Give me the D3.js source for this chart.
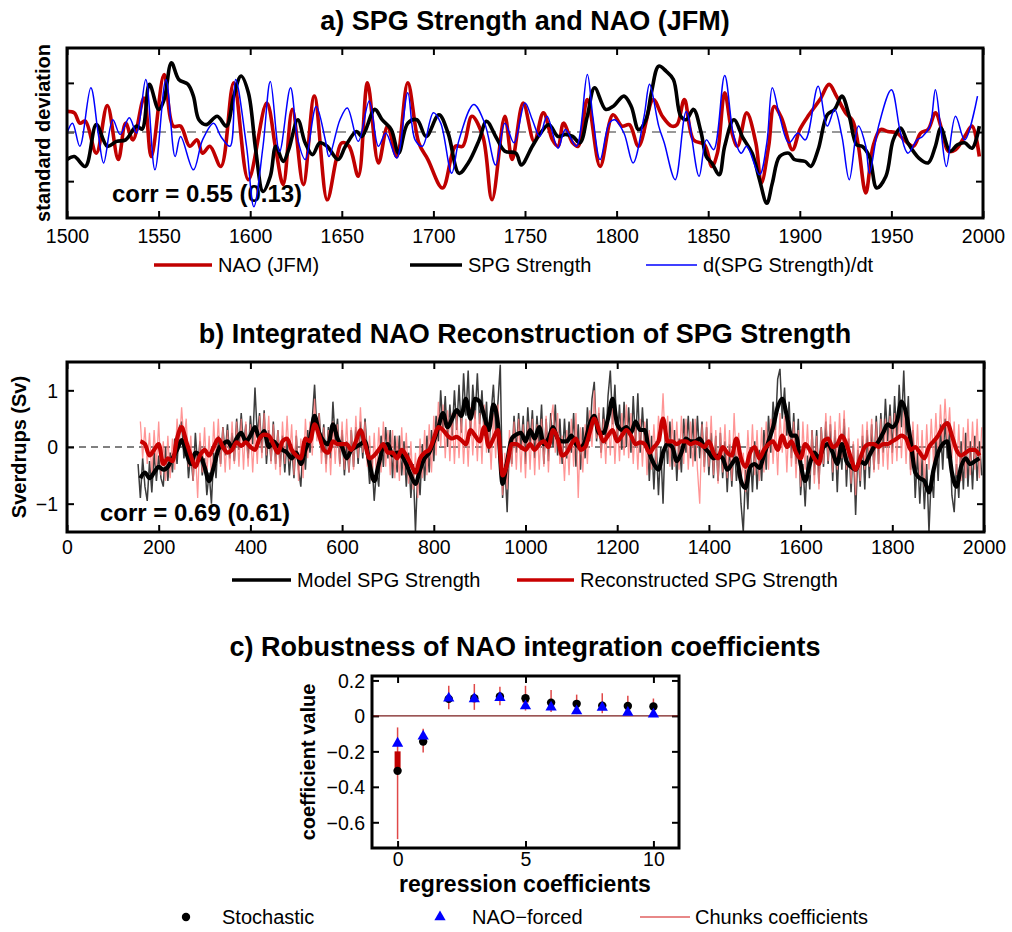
<!DOCTYPE html>
<html><head><meta charset="utf-8">
<script src="https://cdn.jsdelivr.net/npm/d3@7"></script>
<style>
html,body{margin:0;padding:0;background:#fff;}
svg text{font-family:"Liberation Sans",Arial,Helvetica,sans-serif;fill:#000;}
</style></head><body>
<svg id="fig" width="1012" height="932"></svg>
<script>
// ---------------- Panel a: SPG strength, NAO and d(SPG)/dt (standardised) ----------------
const naoYears = [1500,1504,1507,1510,1516,1522,1528,1532,1536,1542,1546,1553,1558,1562,1567,1571,1574,1578,1584,1591,1599,1609,1614,1618,1623,1629,1635,1642,1647,1650,1654,1659,1664,1670,1675,1680,1686,1692,1697,1705,1712,1716,1721,1727,1732,1739,1743,1749,1755,1760,1765,1768,1771,1776,1779,1784,1791,1798,1803,1807,1812,1820,1825,1830,1833,1837,1842,1848,1852,1855,1859,1863,1866,1871,1876,1879,1883,1886,1890,1896,1900,1905,1911,1916,1920,1925,1929,1932,1936,1940,1944,1948,1953,1957,1962,1966,1970,1974,1978,1981,1985,1990,1994,1998];
const naoValues = [0.42,0.39,0.18,0.22,-0.43,0.54,-0.56,0.18,-0.16,0.69,-0.5,1.17,0.12,0.12,-0.29,-0.16,-0.43,-0.29,-0.7,1.0,-0.97,0.59,-0.36,-1.07,0.46,-1.07,0.73,-1.38,-0.56,-0.22,-0.29,-0.9,1.0,-0.63,0.12,-0.5,1.0,-0.22,-0.56,-1.14,-0.29,-0.29,0.32,-0.09,-1.38,0.32,-0.56,0.59,-0.19,0.39,-0.16,-0.29,0.18,-0.22,-0.29,0.66,-0.7,0.35,0.12,0.15,-0.29,0.66,0.32,0.12,0.15,0.66,-0.16,-0.26,-0.7,-0.43,0.8,-0.02,-0.29,0.39,-0.22,-1.04,-0.29,0.52,0.29,-0.36,0.05,0.35,0.66,0.97,0.73,0.39,0.22,-0.29,-1.24,-0.29,0.05,0.01,-0.02,-0.16,-0.29,-0.02,0.05,0.39,-0.02,-0.39,-0.36,-0.09,0.12,-0.5];

const spgYears = [1500,1504,1510,1516,1522,1527,1532,1538,1541,1545,1550,1553,1557,1561,1566,1569,1572,1576,1582,1587,1591,1595,1599,1603,1607,1611,1614,1618,1621,1626,1630,1634,1638,1642,1648,1652,1658,1661,1668,1672,1677,1681,1686,1691,1696,1703,1708,1714,1719,1725,1729,1734,1739,1745,1748,1754,1758,1763,1768,1772,1776,1780,1784,1788,1794,1798,1804,1808,1812,1816,1819,1823,1827,1831,1835,1838,1842,1846,1849,1852,1856,1859,1864,1869,1874,1878,1882,1885,1889,1894,1897,1903,1906,1910,1915,1919,1923,1927,1931,1934,1938,1942,1947,1951,1955,1959,1965,1970,1974,1977,1982,1986,1990,1994,1998];
const spgValues = [-0.56,-0.5,-0.7,0.15,-0.29,-0.19,-0.16,0.12,0.06,0.97,0.46,0.66,1.41,1.07,0.97,0.73,0.25,0.15,0.32,0.12,0.73,1.14,0.8,-0.36,-1.21,-0.9,-0.29,-0.6,-0.36,0.25,-0.22,-0.46,-0.22,-0.29,-0.56,-0.29,0.01,-0.09,0.46,0.25,0.05,-0.43,0.18,0.25,-0.09,0.35,-0.02,-0.84,-0.63,-0.16,0.22,-0.09,-0.39,-0.43,-0.67,-0.29,-0.05,0.15,-0.09,-0.05,-0.09,-0.22,0.32,0.9,0.46,0.52,0.73,0.52,0.05,0.25,0.8,1.34,1.24,1.07,0.32,0.25,0.46,0.01,-0.5,-0.63,-0.87,-0.29,0.25,-0.12,-0.43,-0.97,-1.45,-1.04,-0.5,-0.43,-0.56,-0.6,-0.7,-0.36,0.35,0.46,0.73,0.32,-0.26,-0.29,-0.5,-1.14,-0.9,-0.16,0.08,-0.22,-0.53,-0.63,-0.29,0.08,-0.39,-0.26,-0.22,-0.33,0.12];

const dspgYears = [1500,1503,1507,1513,1517,1520,1525,1529,1534,1538,1543,1548,1554,1559,1562,1569,1574,1580,1584,1589,1592,1598,1602,1607,1611,1616,1622,1626,1630,1636,1641,1643,1649,1653,1659,1665,1670,1674,1680,1686,1690,1694,1700,1704,1710,1714,1722,1728,1734,1739,1744,1750,1754,1758,1762,1768,1772,1778,1784,1787,1791,1796,1799,1804,1809,1815,1818,1823,1826,1832,1838,1845,1849,1853,1859,1864,1868,1871,1878,1882,1885,1889,1894,1899,1903,1910,1915,1919,1923,1927,1932,1936,1938,1943,1950,1955,1959,1964,1967,1971,1974,1977,1980,1985,1990,1997];
const dspgValues = [-0.02,0.18,-0.29,0.9,-0.02,-0.63,0.25,-0.05,0.29,-0.02,1.07,-0.77,1.07,-0.5,-0.09,-0.77,-0.16,0.18,-0.09,-0.29,1.07,-0.29,-1.52,-0.29,1.03,-0.4,0.9,-0.16,-0.56,0.52,-0.16,-0.5,0.25,0.49,-0.19,0.63,-0.29,-0.02,-0.53,0.8,-0.16,-0.29,0.39,0.18,-0.84,-0.16,0.56,0.18,-0.67,0.18,-0.22,0.59,0.25,-0.09,0.32,-0.33,0.05,-0.29,1.17,0.32,-0.56,0.18,0.25,-0.02,-0.63,0.32,0.97,0.12,-0.22,-0.97,0.42,-0.9,-0.16,-0.36,1.15,-0.09,-0.43,-0.29,-0.87,-0.22,0.9,0.32,-0.22,-0.02,-0.16,0.93,0.12,0.46,-0.09,-0.97,0.12,-0.29,-0.84,0.12,0.86,-0.02,-0.43,-0.16,-0.09,0.12,0.86,0.05,-0.7,0.32,-0.16,0.73];

// ---------------- Panel b: model vs reconstructed SPG strength (Sv) ----------------
// annual-ish series sampled every 5 years; smoothed series every 10 years
const modelRawStart = 155, reconRawStart = 160, rawStep = 5;
const modelRaw = [
-0.3,-0.9,-0.2,-0.7,-0.95,-0.25,-0.8,-0.1,-0.6,-0.15,-0.55,-0.7,0.0,-0.6,-0.1,-0.45,0.15,-0.3,0.35,0.45,
-0.2,0.15,-0.55,-0.1,-0.6,0.25,-0.35,0.1,-0.5,-0.2,-0.85,-0.45,-1.0,-0.1,-0.55,0.2,-0.3,0.35,-0.15,0.4,
-0.2,0.25,-0.25,0.5,-0.05,0.6,0.0,0.4,-0.2,0.55,0.05,1.05,0.2,0.6,-0.1,0.65,-0.3,0.3,-0.25,0.45,
-0.3,0.3,-0.35,0.2,-0.45,0.15,-0.5,0.05,-0.55,0.2,-0.4,-0.7,0.1,-0.4,0.3,-0.1,0.5,1.1,0.3,0.6,
-0.1,0.4,-0.3,0.35,-0.2,0.8,0.1,0.5,-0.3,0.3,-0.5,0.1,-0.45,0.3,-0.35,0.35,-0.3,0.45,-0.2,0.5,
-0.1,-0.65,-0.2,-0.95,-0.4,-0.7,0.2,-0.35,0.35,-0.2,0.3,-0.55,0.2,-0.45,0.2,-0.5,0.1,-0.7,-0.1,-0.9,
-0.3,-1.5,-0.4,-0.85,0.05,-0.6,0.2,-0.45,0.3,-0.25,0.55,0.1,1.0,0.3,0.9,0.0,0.75,0.2,1.0,0.3,
1.1,0.25,1.3,0.55,1.35,0.2,1.1,0.5,1.3,0.4,1.0,0.2,0.8,-0.1,0.6,1.1,0.3,0.8,1.45,-0.9,
-0.3,-1.15,0.1,-0.3,0.55,-0.1,0.6,-0.05,0.55,-0.3,0.7,0.05,0.65,-0.2,0.55,0.0,0.75,-0.3,0.5,-0.25,
0.6,0.0,0.75,-0.15,0.5,-0.3,0.5,-0.2,0.45,-0.1,0.6,-0.35,0.4,-0.4,0.35,-0.2,0.7,0.1,0.85,1.15,
0.1,0.6,-0.1,0.7,0.05,0.9,1.35,0.4,1.1,0.1,0.75,-0.05,0.8,0.0,0.7,-0.1,0.9,0.05,0.95,-0.1,
0.7,0.0,0.5,-0.6,0.2,-0.75,0.1,-0.85,0.0,-1.0,0.3,-0.3,0.45,-0.4,0.3,-0.6,0.15,-0.45,0.5,-0.1,
0.55,-0.2,0.5,-0.25,0.55,-0.2,0.45,-0.35,0.35,-0.5,0.25,-0.55,0.2,-0.6,0.25,-0.55,0.1,-0.8,0.05,-0.7,
0.15,-0.6,-0.2,-1.0,-1.5,-0.4,-1.1,0.0,-0.8,0.1,-0.75,-0.05,-0.6,0.3,-0.4,0.55,-0.1,0.8,0.3,1.2,
1.38,0.5,1.05,0.2,0.8,-0.2,0.6,-0.3,0.5,-0.85,-0.3,-1.05,-0.15,-0.75,0.3,-0.5,0.3,-0.65,0.35,-0.35,
0.45,-0.3,0.4,-0.6,0.3,-0.8,0.2,-0.4,0.5,-0.7,0.15,-0.8,0.05,-1.2,-0.05,-0.7,0.2,-0.75,0.3,-0.55,
0.4,-0.4,0.55,-0.3,0.6,-0.1,0.85,0.1,0.75,-0.1,0.9,0.1,1.1,0.35,1.35,0.2,0.9,-0.4,0.3,-0.9,
-0.1,-1.0,-0.2,-1.1,-0.3,-1.5,-0.5,-0.9,0.2,-0.6,0.4,-0.4,0.5,-0.2,0.3,-0.85,-1.15,-0.3,-0.9,0.1,
-0.75,0.25,-0.7,0.1,-0.75,0.2,-0.6,0.1,-0.5];
const reconRaw = [
0.45,-0.2,0.35,-0.3,0.25,-0.5,0.3,-0.35,0.45,-0.5,0.1,-0.6,0.2,-0.55,0.15,-0.4,0.5,0.0,0.7,0.1,
0.5,-0.35,0.2,-0.6,-0.05,-0.9,0.25,-0.45,0.35,-0.5,0.2,-0.55,0.45,-0.3,0.5,-0.35,0.35,-0.45,0.3,-0.4,
0.45,-0.3,0.45,-0.35,0.5,-0.4,0.45,-0.35,0.4,-0.45,0.35,-0.3,0.55,-0.2,0.6,-0.15,0.55,-0.3,0.4,-0.4,
0.3,-0.5,0.45,-0.3,0.55,-0.25,0.4,-0.5,0.3,-0.6,0.15,-0.55,0.5,-0.2,0.45,-0.15,0.85,0.1,0.6,-0.3,
0.35,-0.45,0.3,-0.5,0.45,-0.3,0.4,-0.35,0.45,-0.4,0.5,-0.45,0.35,-0.4,0.55,-0.2,0.7,-0.1,0.45,-0.35,
0.2,-0.6,0.25,-0.55,0.35,-0.45,0.45,-0.35,0.3,-0.5,0.3,-0.55,0.2,-0.6,0.35,-0.5,0.25,-0.65,0.1,-0.75,
-0.1,-0.9,0.15,-0.55,0.3,-0.5,0.4,-0.45,0.55,-0.15,0.8,0.0,0.75,-0.2,0.65,-0.25,0.6,-0.3,0.6,-0.2,
0.55,-0.3,0.5,-0.35,0.7,-0.15,0.65,-0.25,0.6,-0.3,0.75,-0.1,0.45,-0.4,0.6,-0.2,0.75,0.05,-0.85,-0.1,
-0.75,0.3,-0.35,0.45,-0.4,0.5,-0.45,0.4,-0.55,0.45,-0.4,0.5,-0.5,0.4,-0.4,0.5,-0.35,0.55,-0.45,0.45,
0.75,-0.1,0.6,-0.3,0.2,-0.6,0.3,-0.5,0.5,-0.35,0.6,-0.9,0.35,-0.45,0.4,-0.3,0.65,0.0,1.0,0.15,
0.7,-0.2,0.5,-0.3,0.6,-0.15,0.7,-0.3,0.5,-0.25,0.6,-0.15,0.75,-0.2,0.6,-0.3,0.45,-0.4,0.5,-0.35,
0.45,-0.5,0.3,-0.4,0.4,-0.3,0.55,0.1,0.95,0.0,0.55,-0.35,0.5,-0.35,0.45,-0.4,0.55,-0.3,0.5,-0.4,
0.45,-0.35,0.5,-0.4,-1.0,0.4,-0.45,0.45,-0.35,0.55,-0.5,0.3,-0.65,0.35,-0.45,0.4,-0.55,0.3,-0.6,0.6,
-0.3,0.25,-0.65,-0.1,-0.8,0.3,-0.45,0.4,-0.5,0.3,-0.6,0.35,-0.45,0.45,-0.4,0.5,-0.3,0.45,-0.5,0.6,
-0.1,0.55,-0.45,0.5,-0.35,0.45,-0.55,0.3,-0.7,0.45,-0.4,0.4,-0.5,0.3,-0.65,0.2,-0.75,0.35,-0.3,0.6,
-0.25,0.55,-0.45,0.45,-0.4,0.6,-0.2,0.65,-0.4,0.35,-0.65,0.1,-0.85,0.15,-0.6,0.4,-0.4,0.45,-0.35,0.5,
-0.45,0.45,-0.4,0.5,-0.35,0.5,-0.4,0.55,-0.3,0.6,-0.25,0.7,-0.2,0.65,-0.3,0.55,-0.5,0.45,-0.45,0.4,
-0.55,0.3,-0.7,0.4,-0.4,0.5,-0.3,0.6,-0.2,0.75,0.0,0.85,0.1,0.7,-0.2,0.45,-0.5,0.4,-0.6,0.35,
-0.55,0.5,-0.5,0.45,-0.4,0.5,-0.55,0.35];
const smoothStart = 160, smoothStep = 10;
const modelSmooth = [
-0.55,-0.45,-0.55,-0.45,-0.35,-0.4,-0.35,-0.2,-0.05,0.12,
-0.1,-0.3,-0.1,-0.15,-0.35,-0.6,-0.35,-0.05,0.05,0.1,
0.0,0.15,0.25,0.1,0.2,0.35,0.15,0.28,0.0,0.1,
0.02,-0.05,-0.1,-0.2,-0.1,-0.3,-0.05,0.15,0.55,0.25,
0.1,0.05,0.4,0.15,0.0,-0.2,-0.05,0.0,0.05,0.1,
-0.3,-0.6,-0.3,0.0,0.05,-0.15,-0.1,-0.15,-0.3,-0.5,
-0.65,-0.4,-0.2,-0.1,0.1,0.35,0.6,0.35,0.5,0.65,
0.55,0.85,0.5,0.85,0.8,0.55,0.3,0.75,0.4,-0.65,
-0.25,0.15,0.22,0.25,0.1,0.3,0.15,0.35,0.05,0.15,
0.35,0.15,0.1,0.1,0.2,0.05,0.0,0.1,0.4,0.55,
0.25,0.25,0.5,0.85,0.4,0.3,0.35,0.25,0.45,0.3,
0.3,-0.1,-0.3,-0.4,-0.1,0.05,0.0,-0.25,-0.1,0.15,
0.1,0.1,0.15,0.0,-0.1,-0.2,-0.15,-0.2,-0.4,-0.3,
-0.2,-0.6,-0.72,-0.35,-0.3,-0.37,-0.15,0.1,0.35,0.7,
0.85,0.55,0.2,0.2,-0.3,-0.6,-0.3,-0.1,-0.2,0.0,
0.05,-0.1,-0.3,0.05,-0.25,-0.35,-0.4,-0.25,-0.3,-0.15,
0.0,0.1,0.25,0.4,0.35,0.45,0.8,0.6,0.1,-0.45,
-0.55,-0.6,-0.8,-0.4,-0.1,0.05,0.1,-0.45,-0.7,-0.35,
-0.2,-0.3,-0.25,-0.2];
const reconSmooth = [
0.1,0.05,-0.15,-0.05,0.05,-0.3,-0.2,-0.25,0.15,0.35,
0.1,-0.15,-0.35,-0.15,-0.05,-0.15,0.0,0.15,0.0,-0.1,
-0.05,0.08,0.02,0.08,0.0,-0.05,0.15,0.22,0.2,0.05,
-0.1,0.1,0.15,-0.05,-0.15,-0.2,0.15,0.1,0.4,0.2,
-0.05,-0.1,0.1,0.05,0.05,0.05,-0.05,0.1,0.3,0.05,
-0.2,-0.15,-0.05,0.05,-0.1,-0.1,-0.2,-0.05,-0.15,-0.3,
-0.45,-0.2,-0.1,-0.05,0.15,0.35,0.3,0.2,0.15,0.18,
0.12,0.05,0.3,0.2,0.1,0.35,0.0,0.15,0.3,-0.5,
-0.3,0.05,0.05,0.0,-0.05,0.05,-0.05,0.05,0.1,0.0,
0.3,0.15,-0.15,-0.1,0.05,0.15,-0.05,0.0,0.25,0.5,
0.3,0.1,0.2,0.3,0.1,0.2,0.3,0.2,0.05,0.08,
0.05,-0.1,0.0,0.1,0.5,0.1,0.1,0.05,0.1,0.1,
0.05,0.08,0.05,0.0,0.1,-0.1,-0.2,0.0,-0.1,-0.15,
0.15,-0.2,-0.35,-0.1,0.0,-0.2,-0.05,0.05,0.1,-0.05,
0.2,0.0,0.1,-0.1,-0.2,0.05,-0.05,-0.2,-0.3,0.1,
0.15,0.0,0.05,0.2,0.05,-0.2,-0.4,-0.2,0.0,0.05,
0.05,0.0,0.05,0.05,0.1,0.15,0.2,0.15,-0.05,0.0,
-0.1,-0.2,0.0,0.1,0.2,0.35,0.42,0.2,-0.05,-0.15,
-0.1,-0.05,-0.05,-0.15];

// ---------------- Panel c: integration coefficients ----------------
const coefIndex      = [0,1,2,3,4,5,6,7,8,9,10];
const stochastic     = [-0.31,-0.145,0.096,0.1,0.11,0.1,0.075,0.068,0.058,0.056,0.053];
const naoForced      = [-0.155,-0.115,0.1,0.096,0.103,0.056,0.049,0.028,0.047,0.019,0.009];
const chunkMin       = [-0.695,-0.206,0.038,0.034,0.06,0.03,0.022,0.01,0.015,0.004,0.0];
const chunkMax       = [-0.065,-0.073,0.17,0.18,0.165,0.17,0.146,0.12,0.128,0.113,0.098];
const chunkQ1        = [-0.305,-0.155,0.085,0.085,0.095,0.075,0.06,0.055,0.045,0.045,0.04];
const chunkQ3        = [-0.2,-0.125,0.105,0.105,0.115,0.115,0.08,0.075,0.065,0.06,0.055];

// ---------------- drawing ----------------
const svg = d3.select("#fig");
svg.append("rect").attr("width",1012).attr("height",932).attr("fill","#fff");

const TICK_FONT = 19.5;

function frame(g, sx, sy, o) {
  const [xl, xr] = sx.range();
  const [yb, yt] = sy.range();
  const axes = g.append("g");
  const bot = axes.append("g").attr("transform",`translate(0,${yb})`)
    .call(d3.axisBottom(sx).tickValues(o.xt).tickSize(-7).tickSizeOuter(0).tickFormat(o.xf || (() => "")));
  axes.append("g").attr("transform",`translate(0,${yt})`)
    .call(d3.axisTop(sx).tickValues(o.xt).tickSize(-7).tickSizeOuter(0).tickFormat(() => ""));
  const left = axes.append("g").attr("transform",`translate(${xl},0)`)
    .call(d3.axisLeft(sy).tickValues(o.yt).tickSize(-7).tickSizeOuter(0).tickFormat(o.yf || (() => "")));
  axes.append("g").attr("transform",`translate(${xr},0)`)
    .call(d3.axisRight(sy).tickValues(o.yt).tickSize(-7).tickSizeOuter(0).tickFormat(() => ""));
  axes.selectAll(".domain").remove();
  axes.selectAll(".tick line").attr("stroke","#000").attr("stroke-width",2);
  axes.selectAll("text").attr("font-size",TICK_FONT).attr("font-family",null).attr("fill","#000");
  bot.selectAll("text").attr("y", o.xly).attr("dy", 0);
  left.selectAll("text").attr("x", -o.ylx).attr("dy", "0.35em");
}
function box(g, sx, sy) {
  const [xl, xr] = sx.range();
  const [yb, yt] = sy.range();
  g.append("rect").attr("x",xl).attr("y",yt).attr("width",xr-xl).attr("height",yb-yt)
    .attr("fill","none").attr("stroke","#000").attr("stroke-width",3);
}
function clip(id, sx, sy) {
  const [xl, xr] = sx.range();
  const [yb, yt] = sy.range();
  svg.append("clipPath").attr("id",id).append("rect")
    .attr("x",xl).attr("y",yt).attr("width",xr-xl).attr("height",yb-yt);
}
function title(txt, y) {
  svg.append("text").attr("x",525).attr("y",y).attr("text-anchor","middle")
    .attr("font-size",27).attr("font-weight","bold").text(txt);
}
function ylabel(txt, x, y) {
  svg.append("text").attr("transform",`translate(${x},${y}) rotate(-90)`).attr("text-anchor","middle")
    .attr("font-size",20).attr("font-weight","bold").text(txt);
}
function legendLine(x1, x2, y, color, w, label) {
  svg.append("line").attr("x1",x1).attr("x2",x2).attr("y1",y).attr("y2",y)
    .attr("stroke",color).attr("stroke-width",w);
  svg.append("text").attr("x",x2+6).attr("y",y+7).attr("font-size",20).text(label);
}

// ===== Panel a =====
const ax = d3.scaleLinear().domain([1500,2000]).range([67,983]);
const ay = d3.scaleLinear().domain([-1.75,1.71]).range([218,48]);
clip("clipA", ax, ay);
const gA = svg.append("g");
frame(gA, ax, ay, {xt:d3.range(1500,2001,50), xf:d3.format("d"), yt:[-1,0,1], xly:25, ylx:9});
gA.append("line").attr("x1",ax(1500)).attr("x2",ax(2000)).attr("y1",ay(0)).attr("y2",ay(0))
  .attr("stroke","#777").attr("stroke-width",1.4).attr("stroke-dasharray","9,6");
gA.append("text").attr("x",112).attr("y",202).attr("font-size",24).attr("font-weight","bold")
  .text("corr = 0.55 (0.13)");
const dA = gA.append("g").attr("clip-path","url(#clipA)");
const lineA = (yrs) => d3.line().x((d,i) => ax(yrs[i])).y(d => ay(d)).curve(d3.curveCatmullRom.alpha(0.5));
dA.append("path").datum(naoValues).attr("d", lineA(naoYears)).attr("fill","none")
  .attr("stroke","#c00000").attr("stroke-width",3.6).attr("stroke-linejoin","round");
dA.append("path").datum(spgValues).attr("d", lineA(spgYears)).attr("fill","none")
  .attr("stroke","#000").attr("stroke-width",3.6).attr("stroke-linejoin","round");
dA.append("path").datum(dspgValues).attr("d", lineA(dspgYears)).attr("fill","none")
  .attr("stroke","#0000ff").attr("stroke-width",1.5).attr("stroke-linejoin","round");
box(gA, ax, ay);
title("a) SPG Strength and NAO (JFM)", 30);
ylabel("standard deviation", 50, 133);
legendLine(154, 212, 265, "#c00000", 3.6, "NAO (JFM)");
legendLine(410, 462, 265, "#000", 3.6, "SPG Strength");
legendLine(646, 697, 265, "#0000ff", 1.5, "d(SPG Strength)/dt");

// ===== Panel b =====
const bx = d3.scaleLinear().domain([0,2000]).range([67,984]);
const by = d3.scaleLinear().domain([-1.5,1.5]).range([532,362]);
clip("clipB", bx, by);
const gB = svg.append("g");
frame(gB, bx, by, {xt:d3.range(0,2001,200), xf:d3.format("d"), yt:[-1,0,1], yf:d3.format("d"), xly:22, ylx:9});
gB.append("line").attr("x1",bx(0)).attr("x2",bx(2000)).attr("y1",by(0)).attr("y2",by(0))
  .attr("stroke","#000").attr("stroke-width",1).attr("stroke-dasharray","7,5");
gB.append("text").attr("x",100).attr("y",521).attr("font-size",24).attr("font-weight","bold")
  .text("corr = 0.69 (0.61)");
const dB = gB.append("g").attr("clip-path","url(#clipB)");
const lineB = (start, step, curve) => d3.line().x((d,i) => bx(start + i*step)).y(d => by(d)).curve(curve);
dB.append("path").datum(modelRaw).attr("d", lineB(modelRawStart, rawStep, d3.curveLinear))
  .attr("fill","none").attr("stroke","#3c3c3c").attr("stroke-width",1.5);
dB.append("path").datum(reconRaw).attr("d", lineB(reconRawStart, rawStep, d3.curveLinear))
  .attr("fill","none").attr("stroke","#ff7a7a").attr("stroke-opacity",0.8).attr("stroke-width",1.3);
dB.append("path").datum(modelSmooth).attr("d", lineB(smoothStart, smoothStep, d3.curveMonotoneX))
  .attr("fill","none").attr("stroke","#000").attr("stroke-width",4.2).attr("stroke-linejoin","round");
dB.append("path").datum(reconSmooth).attr("d", lineB(smoothStart, smoothStep, d3.curveMonotoneX))
  .attr("fill","none").attr("stroke","#c80000").attr("stroke-width",4.2).attr("stroke-linejoin","round");
box(gB, bx, by);
title("b) Integrated NAO Reconstruction of SPG Strength", 343);
ylabel("Sverdrups (Sv)", 26, 447);
legendLine(232, 291, 580, "#000", 3.6, "Model SPG Strength");
legendLine(517, 574, 580, "#c80000", 3.6, "Reconstructed SPG Strength");

// ===== Panel c =====
const cx = d3.scaleLinear().domain([-1,11]).range([372,679]);
const cy = d3.scaleLinear().domain([-0.745,0.225]).range([848,676]);
const gC = svg.append("g");
const fmtC = d => d === 0 ? "0" : d3.format(".1f")(d);
frame(gC, cx, cy, {xt:[0,5,10], xf:d3.format("d"), yt:[-0.6,-0.4,-0.2,0,0.2], yf:fmtC, xly:18, ylx:7});
gC.append("line").attr("x1",cx(-1)).attr("x2",cx(11)).attr("y1",cy(0)).attr("y2",cy(0))
  .attr("stroke","#7a1c1c").attr("stroke-width",1.3);
gC.selectAll(".rng").data(coefIndex).join("line")
  .attr("x1",d => cx(d)).attr("x2",d => cx(d))
  .attr("y1",(d,i) => cy(chunkMin[i])).attr("y2",(d,i) => cy(chunkMax[i]))
  .attr("stroke","#e04848").attr("stroke-width",1.5);
gC.selectAll(".iqr").data(coefIndex).join("line")
  .attr("x1",d => cx(d)).attr("x2",d => cx(d))
  .attr("y1",(d,i) => cy(chunkQ1[i])).attr("y2",(d,i) => cy(chunkQ3[i]))
  .attr("stroke","#c00000").attr("stroke-width",6);
gC.selectAll(".sto").data(coefIndex).join("circle")
  .attr("cx",d => cx(d)).attr("cy",(d,i) => cy(stochastic[i])).attr("r",4.2).attr("fill","#000");
const tri = d3.symbol().type(d3.symbolTriangle).size(55);
gC.selectAll(".nao").data(coefIndex).join("path")
  .attr("d", tri).attr("transform",(d,i) => `translate(${cx(d)},${cy(naoForced[i])})`).attr("fill","#0000ff");
box(gC, cx, cy);
title("c) Robustness of NAO integration coefficients", 656);
ylabel("coefficient value", 315, 762);
svg.append("text").attr("x",525).attr("y",892).attr("text-anchor","middle")
  .attr("font-size",23).attr("font-weight","bold").text("regression coefficients");
// legend
svg.append("circle").attr("cx",186).attr("cy",917).attr("r",4.2).attr("fill","#000");
svg.append("text").attr("x",222).attr("y",924).attr("font-size",20).text("Stochastic");
svg.append("path").attr("d",tri).attr("transform","translate(440,917)").attr("fill","#0000ff");
svg.append("text").attr("x",472).attr("y",924).attr("font-size",20).text("NAO\u2212forced");
svg.append("line").attr("x1",640).attr("x2",690).attr("y1",917).attr("y2",917)
  .attr("stroke","#e06060").attr("stroke-width",1.5);
svg.append("text").attr("x",695).attr("y",924).attr("font-size",20).text("Chunks coefficients");
</script>
</body></html>
